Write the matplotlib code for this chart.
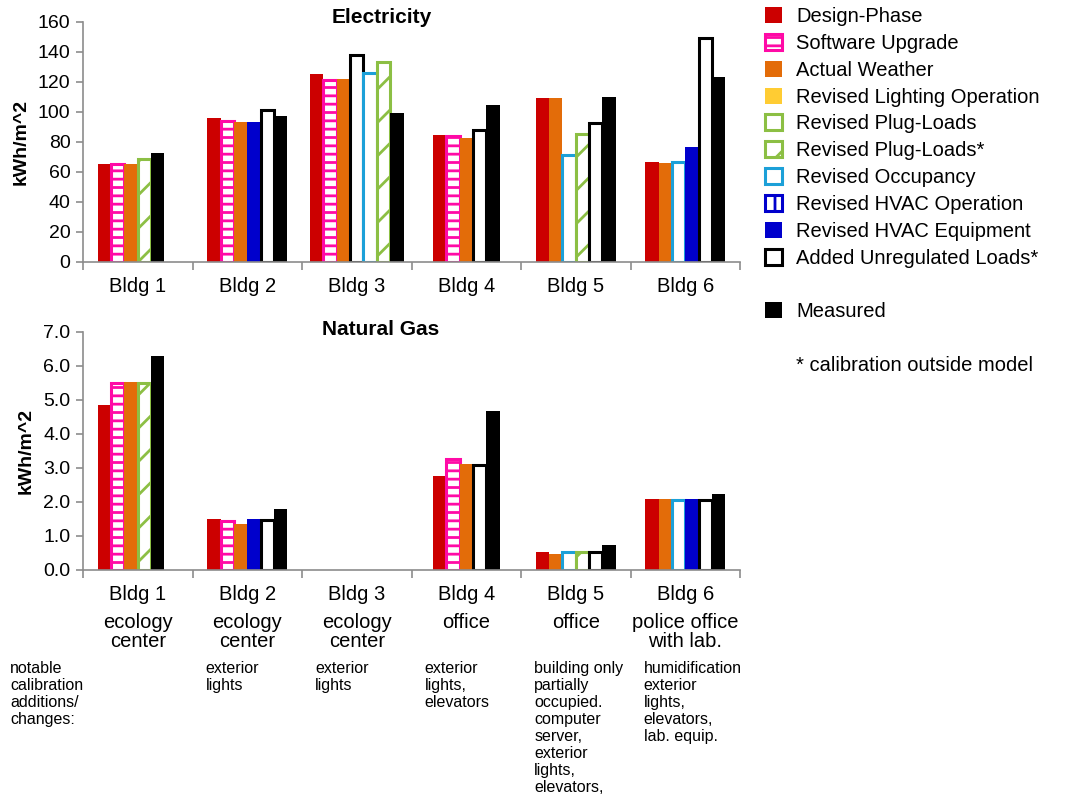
import numpy as np
import matplotlib
matplotlib.use("Agg")
import matplotlib.pyplot as plt
from matplotlib.patches import Patch
from matplotlib.transforms import blended_transform_factory

plt.rcParams['font.family'] = ['Liberation Sans', 'DejaVu Sans']
plt.rcParams['hatch.linewidth'] = 2.0

# --- data ---
buildings = ["Bldg 1", "Bldg 2", "Bldg 3", "Bldg 4", "Bldg 5", "Bldg 6"]
bldg_types = ["ecology\ncenter", "ecology\ncenter", "ecology\ncenter",
              "office", "office", "police office\nwith lab."]
notes_header = "notable\ncalibration\nadditions/\nchanges:"
bldg_notes = ["", "exterior\nlights", "exterior\nlights", "exterior\nlights,\nelevators",
              "building only\npartially\noccupied.\ncomputer\nserver,\nexterior\nlights,\nelevators,",
              "humidification\nexterior\nlights,\nelevators,\nlab. equip."]

# series codes in the order the bars appear in each building ("" = empty slot)
elec_order = [
    ["DP", "SU", "AW", "PL*", "M", ""],
    ["DP", "SU", "AW", "HE", "AU", "M"],
    ["DP", "SU", "AW", "AU", "RO", "PL*", "M"],
    ["DP", "SU", "AW", "AU", "M"],
    ["DP", "AW", "RO", "PL*", "AU", "M"],
    ["DP", "AW", "RO", "HE", "AU", "M"],
]
elec_vals = [
    [65.6, 65.6, 65.6, 68.5, 72.9, None],
    [96.3, 94.0, 93.1, 93.1, 101.0, 97.6],
    [125.1, 121.0, 122.3, 138.0, 126.0, 133.0, 99.6],
    [84.9, 84.3, 82.9, 88.3, 104.9],
    [109.6, 109.6, 71.0, 85.5, 92.6, 110.0],
    [66.9, 66.3, 66.8, 76.9, 149.3, 123.6],
]
gas_order = [
    ["DP", "SU", "AW", "PL*", "M", ""],
    ["DP", "SU", "AW", "HE", "AU", "M"],
    [],
    ["DP", "SU", "AW", "AU", "M"],
    ["DP", "AW", "RO", "PL*", "AU", "M"],
    ["DP", "AW", "RO", "HE", "AU", "M"],
]
gas_vals = [
    [4.85, 5.50, 5.53, 5.50, 6.29, None],
    [1.50, 1.45, 1.34, 1.50, 1.48, 1.79],
    [],
    [2.76, 3.25, 3.11, 3.08, 4.66],
    [0.52, 0.46, 0.53, 0.53, 0.53, 0.74],
    [2.09, 2.09, 2.07, 2.09, 2.07, 2.23],
]

# legend entries: code, label
legend_codes = ["DP", "SU", "AW", "RL", "PL", "PL*", "RO", "HO", "HE", "AU"]
labels = {
    "DP": "Design-Phase", "SU": "Software Upgrade", "AW": "Actual Weather",
    "RL": "Revised Lighting Operation", "PL": "Revised Plug-Loads",
    "PL*": "Revised Plug-Loads*", "RO": "Revised Occupancy",
    "HO": "Revised HVAC Operation", "HE": "Revised HVAC Equipment",
    "AU": "Added Unregulated Loads*", "M": "Measured",
}

# --- styles: facecolor, edgecolor, hatch, linewidth ---
styles = {
    "DP": ("#CC0000", "none", None, 0),
    "SU": ("white", "#FF0AA6", "--", 2.2),
    "AW": ("#E36C09", "none", None, 0),
    "RL": ("#FFCC33", "none", None, 0),
    "PL": ("white", "#8CBF44", "\\", 2.2),
    "PL*": ("white", "#8CBF44", "/", 2.2),
    "RO": ("white", "#1CA0D8", None, 2.2),
    "HO": ("white", "#0000CC", "|", 2.2),
    "HE": ("#0000CC", "none", None, 0),
    "AU": ("white", "black", None, 2.2),
    "M": ("black", "none", None, 0),
}

BAR_W = 0.122
AXIS_GRAY = "#8C8C8C"

fig = plt.figure(figsize=(10.71, 7.96), dpi=100)
ax1 = fig.add_axes([83 / 1071, 1 - 262 / 796, 657 / 1071, 240 / 796])
ax2 = fig.add_axes([83 / 1071, 1 - 570 / 796, 657 / 1071, 238.3 / 796])


def draw_bars(ax, order, vals):
    for i, (codes, values) in enumerate(zip(order, vals)):
        n = len(codes)
        offsets = (np.arange(n) - (n - 1) / 2) * BAR_W
        for off, code, v in zip(offsets, codes, values):
            if not code or v is None:
                continue
            fc, ec, hatch, lw = styles[code]
            ax.bar(i + off, v, width=BAR_W, facecolor=fc, edgecolor=ec,
                   hatch=hatch, linewidth=lw, zorder=2)


def style_axes(ax, ymax, step, fmt):
    ax.set_xlim(-0.5, len(buildings) - 0.5)
    ax.set_ylim(0, ymax)
    ax.spines[['top', 'right']].set_visible(False)
    for s in ('left', 'bottom'):
        ax.spines[s].set_color(AXIS_GRAY)
        ax.spines[s].set_linewidth(1.2)
    yt = np.arange(0, ymax + step / 2, step)
    ax.set_yticks(yt)
    ax.set_yticklabels([fmt.format(v) for v in yt], fontsize=14)
    ax.tick_params(axis='y', direction='out', length=5, color=AXIS_GRAY, width=1.2, pad=4)
    ax.set_xticks(range(len(buildings)))
    ax.set_xticklabels(buildings, fontsize=14.5)
    ax.tick_params(axis='x', which='major', length=0, pad=11)
    ax.set_xticks(np.arange(-0.5, len(buildings)), minor=True)
    ax.tick_params(axis='x', which='minor', direction='out', length=6, color=AXIS_GRAY, width=1.2)
    ax.set_ylabel("kWh/m^2", fontsize=14, fontweight='bold', labelpad=6)


draw_bars(ax1, elec_order, elec_vals)
draw_bars(ax2, gas_order, gas_vals)
style_axes(ax1, 160, 20, "{:.0f}")
style_axes(ax2, 7.0, 1.0, "{:.1f}")

ax1.text(0.455, 1.017, "Electricity", transform=ax1.transAxes, ha='center', va='center',
         fontsize=15, fontweight='bold')
ax2.text(0.453, 1.011, "Natural Gas", transform=ax2.transAxes, ha='center', va='center',
         fontsize=15, fontweight='bold')

# building types and calibration notes below the gas chart
tr = blended_transform_factory(ax2.transData, ax2.transAxes)
for i, t in enumerate(bldg_types):
    ax2.text(i, -0.182, t, transform=tr, ha='center', va='top', fontsize=14.5,
             linespacing=0.95, clip_on=False)
for i, t in enumerate(bldg_notes):
    if t:
        ax2.text(i - 0.5 + 0.12, -0.38, t, transform=tr, ha='left', va='top',
                 fontsize=11.5, linespacing=1.17, clip_on=False)
ax2.text(-0.5 - 73 / 109.5, -0.38, notes_header, transform=tr, ha='left', va='top',
         fontsize=11.5, linespacing=1.17, clip_on=False)

# legend on the right
handles, leg_labels = [], []
for code in legend_codes:
    fc, ec, hatch, lw = styles[code]
    handles.append(Patch(facecolor=fc, edgecolor=ec, hatch=hatch, linewidth=lw))
    leg_labels.append(labels[code])
blank = Patch(facecolor='none', edgecolor='none')
handles += [blank, Patch(facecolor='black', edgecolor='none'), blank, blank]
leg_labels += [" ", labels["M"], " ", "* calibration outside model"]
fig.legend(handles, leg_labels, loc='upper left', bbox_to_anchor=(765 / 1071, 1 - 7 / 796),
           frameon=False, fontsize=14.5, handlelength=0.85, handleheight=0.85,
           handletextpad=0.7, labelspacing=0.39, borderpad=0, borderaxespad=0)

fig.savefig("out.png", dpi=100)
